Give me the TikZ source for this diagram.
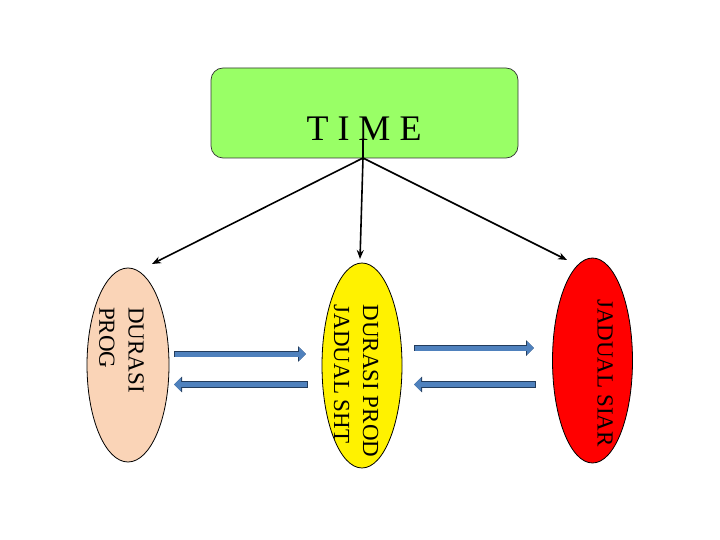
\documentclass[tikz,border=0pt]{standalone}
\usepackage{fontspec}
\setmainfont{Liberation Serif}
\usetikzlibrary{shapes.geometric,arrows.meta}

\definecolor{timegreen}{HTML}{99FF66}
\definecolor{peach}{HTML}{FAD4B7}
\definecolor{arrowblue}{HTML}{4F81BD}
\definecolor{arrowedge}{HTML}{233C5C}

\tikzset{
  bubble/.style={ellipse,draw=black,line width=0.8pt,inner sep=0pt},
  bubbletext/.style={rotate=-90,align=left,inner sep=0pt,font=\fontsize{23}{29}\selectfont},
  branch/.style={line width=1.6pt,-{Stealth[length=9pt,width=7pt]}},
  blockarrow/.style={line width=5pt,draw=arrowblue,-{Triangle[length=7pt,width=13pt]},
    preaction={draw=arrowedge,line width=6.8pt,shorten <=-0.9pt,-{Triangle[length=8pt,width=15.5pt]}}}
}

\begin{document}
\begin{tikzpicture}[x=1pt,y=-1pt]
\useasboundingbox (0,0) rectangle (720,540);

\node[draw=black!80,line width=0.7pt,fill=timegreen,rounded corners=12pt,minimum width=307pt,minimum height=90pt] (time) at (364.5,113) {};
\node[font=\fontsize{36}{40}\selectfont] (timetext) at (364,129) {T I M E};

% the three ellipses
\node[bubble,fill=peach,minimum width=82pt,minimum height=194pt] (prog) at (128,365) {};
\node[bubble,fill=yellow,minimum width=80pt,minimum height=205pt] (prod) at (362,365.5) {};
\node[bubble,fill=red,minimum width=80pt,minimum height=205pt] (siar) at (592.5,360.5) {};

\node[bubbletext] (progtext) at (121.5,350) {DURASI\\PROG};
\node[bubbletext] (prodtext) at (356,381) {DURASI PROD\\JADUAL SHT};
\node[bubbletext] (siartext) at (605,373) {JADUAL SIAR};

\coordinate (top) at (363,140);
\coordinate (split) at (363,158);
\coordinate (tipprog) at (152,264);
\coordinate (tipprod) at (360,259);
\coordinate (tipsiar) at (567,260);

\draw[line width=1.6pt] (top) -- (split);
\draw[branch] (split) -- (tipprog);
\draw[branch] (split) -- (tipprod);
\draw[branch] (split) -- (tipsiar);

% block arrows
\coordinate (p1) at (175,354);  \coordinate (p2) at (306,354);
\coordinate (p3) at (307,384.5);\coordinate (p4) at (174,384.5);
\coordinate (p5) at (415,348);  \coordinate (p6) at (534,348);
\coordinate (p7) at (535,384.5);\coordinate (p8) at (414,384.5);
\draw[blockarrow] (p1) -- (p2);
\draw[blockarrow] (p3) -- (p4);
\draw[blockarrow] (p5) -- (p6);
\draw[blockarrow] (p7) -- (p8);
\end{tikzpicture}
\end{document}
